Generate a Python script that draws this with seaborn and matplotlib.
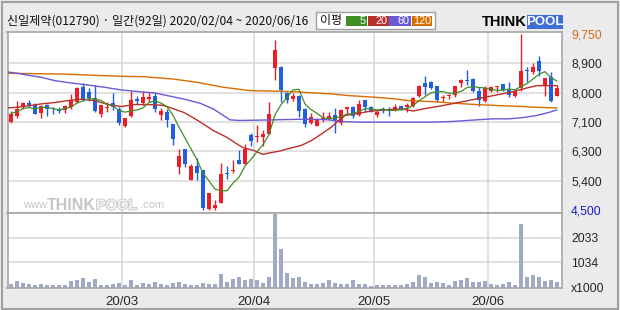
import numpy as np
import pandas as pd
import matplotlib
matplotlib.use("Agg")
import matplotlib.pyplot as plt
from matplotlib.patches import Rectangle
import matplotlib.patheffects as pe
import seaborn as sns

# ---------------- data ----------------
title = "신일제약(012790) · 일간(92일) 2020/02/04 ~ 2020/06/16"

opens = [7120, 7300, 7580, 7700, 7640, 7390, 7640, 7540, 7470, 7470,
         7560, 7710, 8180, 8030, 7850, 7370, 7540, 7700, 7500, 7000,
         7290, 7810, 7680, 7810, 7900, 7320, 7420, 7050, 5780, 6320,
         5400, 5820, 5700, 4520, 4570, 4710, 5610, 5660, 5980, 5880,
         6730, 6670, 6670, 6750, 8730, 8770, 8000, 7820, 7910, 7520,
         7090, 7000, 7170, 7230, 7340, 7100, 7500, 7580, 7340, 7780,
         7580, 7330, 7520, 7500, 7490, 7610, 7580, 7590, 7890, 8280,
         8330, 8210, 7830, 7890, 7930, 8280, 8360, 8420, 8060, 7760,
         8040, 8180, 8270, 8080, 7890, 8140, 8680, 8600, 8950, 8240,
         8460, 7890]
closes = [7370, 7500, 7700, 7640, 7350, 7610, 7500, 7500, 7440, 7600,
          7780, 8140, 7790, 7830, 7450, 7620, 7580, 7570, 7090, 7230,
          7780, 7740, 7880, 7880, 7500, 7440, 7190, 6610, 6100, 5880,
          5800, 5600, 4560, 4990, 4640, 5580, 5580, 5700, 5860, 6320,
          6570, 6710, 6770, 7370, 9270, 8080, 7780, 7910, 7450, 7070,
          7270, 7210, 7250, 7310, 7170, 7490, 7570, 7310, 7670, 7560,
          7460, 7410, 7440, 7470, 7580, 7520, 7640, 7840, 8210, 8160,
          8140, 7780, 7860, 7940, 8210, 8390, 8340, 8040, 7780, 8150,
          8160, 8200, 8080, 7940, 8040, 8650, 8630, 8770, 8650, 8430,
          7740, 8130]
highs = [7440, 7740, 7730, 7790, 7700, 7640, 7660, 7580, 7560, 7620,
         7960, 8180, 8300, 8130, 8240, 7640, 7730, 7980, 7580, 7250,
         8060, 7900, 8060, 8010, 7980, 7540, 7510, 7070, 6330, 6330,
         5880, 6060, 5700, 4990, 4790, 5900, 5800, 6000, 6300, 6470,
         6790, 7020, 6890, 7710, 9570, 8800, 8020, 8000, 7920, 7540,
         7390, 7250, 7410, 7410, 7540, 7510, 7580, 7610, 7780, 7780,
         7600, 7490, 7580, 7580, 7660, 7610, 7680, 7860, 8240, 8510,
         8360, 8210, 7940, 7960, 8210, 8410, 8680, 8440, 8160, 8210,
         8210, 8210, 8270, 8310, 8060, 9750, 8750, 8890, 9080, 8440,
         8600, 8240]
lows = [7090, 7250, 7510, 7580, 7350, 7250, 7290, 7370, 7390, 7390,
        7510, 7680, 7760, 7740, 7410, 7270, 7430, 7470, 7030, 6970,
        7270, 7660, 7640, 7710, 7410, 7190, 6970, 6430, 5580, 5780,
        5400, 5380, 4500, 4500, 4510, 4710, 5430, 5600, 5860, 5860,
        6410, 6540, 6420, 6750, 8380, 7710, 7680, 7740, 7270, 6970,
        7050, 6990, 7110, 7170, 6790, 7030, 7370, 7250, 7290, 7420,
        7420, 7270, 7390, 7290, 7450, 7470, 7420, 7580, 7880, 7940,
        8110, 7730, 7710, 7810, 7860, 8160, 8230, 8020, 7590, 7710,
        8010, 8010, 8040, 7880, 7860, 8040, 8310, 8560, 8510, 7900,
        7710, 7890]
volumes = [123, 247, 178, 123, 96, 123, 82, 82, 82, 82,
           247, 315, 370, 219, 329, 82, 82, 123, 164, 82,
           288, 82, 164, 137, 206, 137, 82, 178, 219, 137,
           82, 82, 164, 137, 137, 534, 219, 329, 411, 301,
           329, 288, 164, 411, 3000, 1589, 589, 384, 425, 219,
           123, 151, 178, 288, 178, 137, 137, 301, 151, 137,
           55, 82, 96, 96, 96, 96, 151, 219, 493, 425,
           178, 206, 178, 96, 260, 301, 370, 219, 219, 247,
           137, 110, 137, 219, 96, 2589, 411, 493, 411, 260,
           288, 219]

# moving averages (x = trading-day index)
ma20_x = [-0.5, 1.2, 5.1, 7.3, 9.5, 11.7, 13.9, 16.2, 18.4, 20.6, 22.8, 25.2, 26, 28.7,
          30.4, 32, 33.7, 35.9, 37.6, 38.7, 40.4, 42, 43, 44.8, 46.2, 48.4, 50.1, 51.8,
          53.4, 54.6, 55.7, 57.3, 59.6, 62.3, 65.1, 67, 68.7, 72, 74.8, 77.6, 80.4,
          83.2, 86, 87.6, 91]
ma20_y = [7544, 7564, 7663, 7703, 7762, 7802, 7762, 7643, 7584, 7643, 7643, 7623, 7584, 7415,
          7247, 7068, 6870, 6672, 6474, 6355, 6276, 6157, 6196, 6256, 6325, 6424, 6573, 6771,
          6969, 7168, 7316, 7366, 7435, 7485, 7514, 7450, 7514, 7614, 7713, 7812, 7911,
          8010, 8139, 8208, 8208]
ma60_x = [-0.5, 1.2, 2.6, 5.1, 7.3, 10, 12.8, 15.6, 18.4, 21.2, 24, 26, 28.7, 31.5, 33.7,
          35.4, 36.5, 38, 44, 49, 53, 55, 58, 66, 70, 73.5, 77.6, 80.4, 83, 85, 87.6, 89.8, 91]
ma60_y = [8614, 8575, 8525, 8456, 8357, 8287, 8228, 8159, 8079, 8030, 7990, 7911, 7812, 7683, 7514,
          7316, 7187, 7168, 7187, 7207, 7187, 7138, 7118, 7118, 7118, 7138, 7187, 7217, 7217,
          7247, 7316, 7415, 7485]
ma120_x = [-0.5, 8.4, 18.4, 22, 27, 31, 35.4, 39.8, 44.8, 48, 49.5, 53.5, 56.2, 60.7, 64,
           66.2, 71, 73.7, 77.6, 81, 85.4, 87, 91]
ma120_y = [8575, 8555, 8486, 8476, 8406, 8307, 8159, 8059, 8040, 8020, 8000, 7960, 7911, 7861,
           7812, 7762, 7723, 7683, 7643, 7614, 7584, 7564, 7544]

month_start_idx = [19, 41, 61, 80]
month_labels = ["20/03", "20/04", "20/05", "20/06"]
price_tick_labels = ["9,750", "8,900", "8,000", "7,100", "6,300", "5,400", "4,500"]
vol_tick_values = [0, 1034, 2033]
vol_tick_labels = ["x1000", "1034", "2033"]
legend_names = ["5", "20", "60", "120"]

# ---------------- style ----------------
BG = "#ebebeb"
RED = "#ee1c24"
BLUE = "#1f5fe0"
GRID = "#d9d9d9"
SPINE = "#a6a6a6"
C_MA = ["#3f8f25", "#bb2f2a", "#6a5ad8", "#d96c00"]
VOLC = "#a0aac4"

sns.set_style("white")
plt.rcParams['font.family'] = ['Liberation Sans', 'DejaVu Sans']

W, H = 620, 310
fig = plt.figure(figsize=(6.2, 3.1), dpi=100, facecolor=BG)


def fx(x):
    return x / W


def fy(y):
    return 1 - y / H


L, R = 7.5, 562
ax = fig.add_axes([fx(L), fy(212.5), (R - L) / W, (212.5 - 32.5) / H])
axv = fig.add_axes([fx(L), fy(287.5), (R - L) / W, (287.5 - 212.5) / H], sharex=ax)

df = pd.DataFrame({"open": opens, "high": highs, "low": lows, "close": closes, "vol": volumes})
df["i"] = np.arange(len(df))
df["ma5"] = df["close"].rolling(5, min_periods=1).mean()

up = df["close"] >= df["open"]
cols = np.where(up, RED, BLUE)

# wicks and bodies
ax.vlines(df["i"], df["low"], df["high"], colors=cols, lw=1.0, zorder=2)
body_lo = np.minimum(df["open"], df["close"])
body_h = np.abs(df["close"] - df["open"])
small = body_h < 30
body_lo = np.where(small, (df["open"] + df["close"]) / 2 - 15, body_lo)
body_h = np.where(small, 30, body_h)
ax.bar(df["i"], body_h, bottom=body_lo, width=0.7, color=cols, lw=0, zorder=2.5)

# moving averages
sns.lineplot(x=ma120_x, y=ma120_y, ax=ax, color=C_MA[3], lw=1.0, zorder=3, legend=False)
sns.lineplot(x=ma60_x, y=ma60_y, ax=ax, color=C_MA[2], lw=1.0, zorder=3, legend=False)
sns.lineplot(x=ma20_x, y=ma20_y, ax=ax, color=C_MA[1], lw=1.0, zorder=3, legend=False)
sns.lineplot(data=df, x="i", y="ma5", ax=ax, color=C_MA[0], lw=0.9, zorder=3.2, legend=False)

# volume
axv.bar(df["i"], df["vol"], width=0.76, color=VOLC, lw=0, zorder=2)

# axes limits
pmax, pmin = max(highs), min(lows)
price_ticks = np.linspace(pmax, pmin, len(price_tick_labels))
step = (pmax - pmin) / (len(price_tick_labels) - 1)
ax.set_ylim(pmin - step * 0.09, pmax + step * 0.05)
ax.set_xlim(-0.58, len(df) - 0.17)
axv.set_ylim(0, 3070)

# grids
for m in month_start_idx:
    ax.axvline(m - 0.5, color=GRID, lw=1.1, zorder=1)
    axv.axvline(m - 0.5, color=GRID, lw=1.1, zorder=1)
for t in price_ticks[1:-1]:
    ax.axhline(t, color=GRID, lw=1.1, zorder=1)
for t in vol_tick_values[1:]:
    axv.axhline(t, color=GRID, lw=1.1, zorder=1)

# ticks
for a in (ax, axv):
    a.set_facecolor("white")
    a.set_xlabel("")
    a.set_ylabel("")
    for s in a.spines.values():
        s.set_color(SPINE)
        s.set_linewidth(1.2)
    a.yaxis.tick_right()
    a.tick_params(axis="both", length=0, labelsize=8.7, pad=6.5, labelleft=False, labelright=True)

ax.set_yticks(price_ticks)
ax.set_yticklabels(price_tick_labels)
ax.tick_params(axis="x", labelbottom=False)
tl = ax.get_yticklabels()
tl[0].set_color("#d2691e")
tl[-1].set_color("#1a1ad0")

axv.set_yticks(vol_tick_values)
axv.set_yticklabels(vol_tick_labels)
axv.set_xticks([m - 0.5 for m in month_start_idx])
axv.set_xticklabels(month_labels)
axv.tick_params(axis="x", labelsize=9.5, pad=6)

# ---------------- decorations ----------------
KR = ['Noto Sans CJK KR', 'DejaVu Sans']
fig.text(fx(7), fy(21.5), title, fontsize=8.7, family=KR, va="center", ha="left", color="#111111")

# legend box
fig.patches.append(Rectangle((fx(315.5), fy(28.5)), 120 / W, 16 / H, transform=fig.transFigure,
                             facecolor="white", edgecolor="#a0a0a0", lw=1.0))
fig.text(fx(320), fy(20.8), "이평", fontsize=8.6, family=KR, va="center", ha="left", color="#111111")
boxes = [(346, 366.5), (367.5, 388.5), (389.5, 410.5), (411.5, 432.5)]
for (x0, x1), name, c in zip(boxes, legend_names, C_MA):
    fig.patches.append(Rectangle((fx(x0), fy(25.7)), (x1 - x0) / W, 10.2 / H,
                                 transform=fig.transFigure, facecolor=c, edgecolor="none"))
    fig.text(fx(x1 - 1.0), fy(20.9), name, fontsize=7.8, color="white", va="center", ha="right")

# THINKPOOL logo
fig.text(fx(482), fy(22.3), "THINK", fontsize=10.5, fontweight="bold", color="black",
         va="center", ha="left")
fig.patches.append(Rectangle((fx(527), fy(29)), 36 / W, 14 / H, transform=fig.transFigure,
                             facecolor="#3d6fd6", edgecolor="none"))
fig.text(fx(545), fy(22.3), "POOL", fontsize=9.5, fontweight="bold", color="white",
         va="center", ha="center")

# watermark
wm = "#c6c6c6"
fig.text(fx(23), fy(208.5), "www.", fontsize=8, color=wm, va="baseline", ha="left")
fig.text(fx(47), fy(209.5), "THINK", fontsize=11.5, fontweight="bold", color=wm, va="baseline", ha="left")
fig.text(fx(96), fy(209.5), "POOL", fontsize=10.5, fontweight="bold", color="#f2f2f2", va="baseline", ha="left",
         path_effects=[pe.withStroke(linewidth=1.2, foreground=wm)])
fig.text(fx(140), fy(208.5), ".com", fontsize=8, color=wm, va="baseline", ha="left")

# outer frame
fig.patches.append(Rectangle((fx(1.5), fy(308.5)), 616 / W, 307 / H, transform=fig.transFigure,
                             facecolor="none", edgecolor="#a0a0a0", lw=1.5))

fig.savefig("out.png", dpi=100, facecolor=BG)
